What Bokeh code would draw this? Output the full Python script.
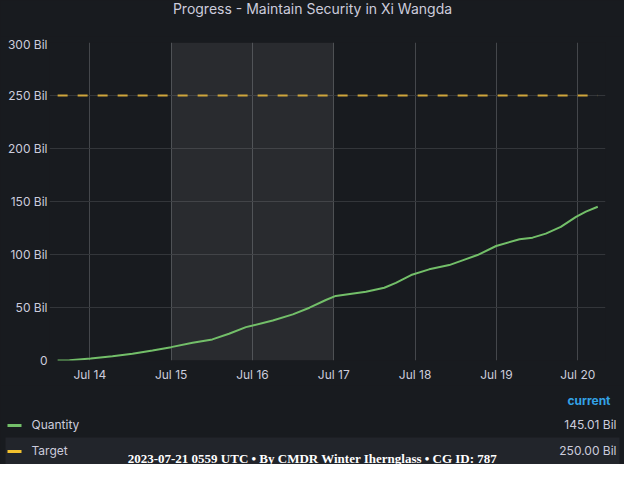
import pandas as pd
from bokeh.plotting import figure
from bokeh.layouts import column
from bokeh.models import Range1d, FixedTicker, DatetimeTickFormatter, BoxAnnotation
from bokeh.core.properties import value
from bokeh.embed import file_html
from bokeh.resources import INLINE

# progress samples (values in billions)
times = [
    "2023-07-13 14:30", "2023-07-13 18:00", "2023-07-14 00:15", "2023-07-14 06:40",
    "2023-07-14 12:35", "2023-07-14 18:30", "2023-07-15 00:00", "2023-07-15 06:20",
    "2023-07-15 12:10", "2023-07-15 17:05", "2023-07-15 22:05", "2023-07-16 00:05",
    "2023-07-16 06:00", "2023-07-16 11:55", "2023-07-16 16:50", "2023-07-16 21:40",
    "2023-07-17 00:35", "2023-07-17 09:30", "2023-07-17 14:55", "2023-07-17 18:20",
    "2023-07-17 22:50", "2023-07-18 04:10", "2023-07-18 10:05", "2023-07-18 14:00",
    "2023-07-18 18:25", "2023-07-18 23:55", "2023-07-19 06:50", "2023-07-19 10:40",
    "2023-07-19 14:35", "2023-07-19 19:00", "2023-07-19 23:30", "2023-07-20 02:25",
    "2023-07-20 05:55",
]
quantity = [
    0.0, 0.2, 2.0, 4.0,
    6.3, 9.5, 12.6, 16.7,
    19.9, 25.2, 31.5, 33.0,
    37.8, 43.5, 49.8, 57.1,
    60.9, 64.8, 68.6, 73.3,
    80.6, 86.0, 90.0, 94.5,
    99.5, 108.0, 114.4, 115.9,
    119.7, 126.0, 135.5, 140.5,
    145.01,
]
target_times = ["2023-07-13 14:30", "2023-07-20 05:55"]
target = [250.0, 250.0]

series_names = ["Quantity", "Target"]
series_colors = ["#73bf69", "#f2c12e"]
current_values = [quantity[-1], target[-1]]

tick_days = ["2023-07-14", "2023-07-15", "2023-07-16", "2023-07-17",
             "2023-07-18", "2023-07-19", "2023-07-20"]
y_ticks = [0, 50, 100, 150, 200, 250, 300]
y_labels = ["0", "50 Bil", "100 Bil", "150 Bil", "200 Bil", "250 Bil", "300 Bil"]
highlight = ["2023-07-15", "2023-07-17"]
x_window = ["2023-07-13 12:06", "2023-07-20 08:12"]

title = "Progress - Maintain Security in Xi Wangda"
footer = "2023-07-21 0559 UTC \u2022 By CMDR Winter Ihernglass \u2022 CG ID: 787"

BG = "#181b1f"
TXT = "#ccccdc"
FONT = "Inter"


def ms(s):
    return (pd.Timestamp(s) - pd.Timestamp("1970-01-01")).total_seconds() * 1000.0


def blank(height, y0, y1):
    # a bare panel whose ranges are the page's pixel coordinates
    f = figure(width=624, height=height, x_range=Range1d(8, 632), y_range=Range1d(y1, y0),
               output_backend="svg", toolbar_location=None, frame_align=False,
               x_axis_location=None, y_axis_location=None,
               min_border_left=0, min_border_right=0, min_border_top=0, min_border_bottom=0,
               background_fill_color=BG, border_fill_color=BG, outline_line_color=None,
               styles={"background-color": BG})
    f.grid.visible = False
    return f


head = blank(36, 8, 44)
head.text(x=[320], y=[16], text=[title], text_color=TXT,
          text_font=value(FONT), text_font_size="14px",
          text_align="center", text_baseline="middle")

p = figure(width=624, height=349, x_axis_type="datetime",
           x_range=Range1d(ms(x_window[0]), ms(x_window[1])),
           y_range=Range1d(0, 300),
           output_backend="svg", toolbar_location=None, frame_align=False,
           min_border_left=49, min_border_right=19,
           min_border_top=6, min_border_bottom=25,
           background_fill_color=BG, border_fill_color=BG,
           outline_line_color=None, styles={"background-color": BG})

p.add_layout(BoxAnnotation(left=ms(highlight[0]), right=ms(highlight[1]),
                           fill_color="#ffffff", fill_alpha=0.075,
                           line_color=None, level="underlay"))

p.line(pd.to_datetime(times), quantity, color=series_colors[0], line_width=2)
p.line(pd.to_datetime(target_times), target, color="#cfa63c",
       line_width=2, line_dash="10 10")

p.yaxis.ticker = FixedTicker(ticks=y_ticks)
p.yaxis.major_label_overrides = dict(zip(y_ticks, y_labels))
p.xaxis.ticker = FixedTicker(ticks=[ms(d) for d in tick_days])
fmt = "%b %d"
p.xaxis.formatter = DatetimeTickFormatter(days=fmt, months=fmt, hours=fmt,
                                          minutes=fmt, years=fmt)
for ax in (p.xaxis, p.yaxis):
    ax.axis_line_color = None
    ax.major_tick_line_color = None
    ax.minor_tick_line_color = None
    ax.major_tick_out = 0
    ax.major_tick_in = 0
    ax.major_label_text_color = TXT
    ax.major_label_text_font = FONT
    ax.major_label_text_font_size = "12px"
p.yaxis.major_label_standoff = 2
p.xaxis.major_label_standoff = 6

p.ygrid.grid_line_color = "#33363a"
p.xgrid.grid_line_color = "#44474b"

# legend table below the chart
leg = blank(79, 393, 472)
row_y = [432, 458]
leg.quad(left=[13], right=[627], top=[445], bottom=[471.7], fill_color="#22252b", line_color=None)
leg.text(x=[618], y=[408], text=["current"], text_color="#33a2e5",
         text_font=value(FONT), text_font_size="12px", text_font_style="bold",
         text_align="right", text_baseline="middle")
leg.rect(x=[22] * 2, y=[r + 1 for r in row_y], width=14, height=3,
         fill_color=series_colors, line_color=None)
leg.text(x=[39] * 2, y=row_y, text=series_names, text_color=TXT,
         text_font=value(FONT), text_font_size="12px",
         text_align="left", text_baseline="middle")
leg.text(x=[624] * 2, y=row_y, text=["%.2f Bil" % v for v in current_values], text_color=TXT,
         text_font=value(FONT), text_font_size="12px",
         text_align="right", text_baseline="middle")
leg.text(x=[320], y=[465.5], text=[footer], text_color="#ffffff",
         text_font=value("Liberation Serif"), text_font_size="13px", text_font_style="bold",
         text_align="center", text_baseline="middle")

layout = column(head, p, leg, spacing=0, styles={"background-color": BG})

open("out.html", "w").write(file_html(layout, INLINE))
